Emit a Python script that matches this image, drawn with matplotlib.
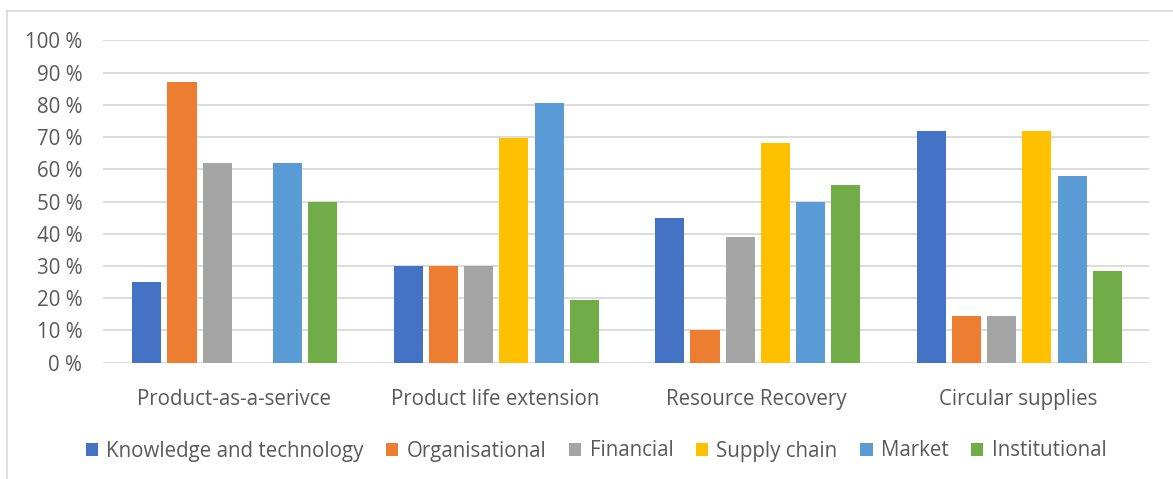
import matplotlib
matplotlib.use("Agg")
import matplotlib.pyplot as plt
from matplotlib.patches import Patch
from matplotlib.lines import Line2D
import numpy as np

categories = ["Product-as-a-serivce", "Product life extension", "Resource Recovery", "Circular supplies"]
series_names = ["Knowledge and technology", "Organisational", "Financial", "Supply chain", "Market", "Institutional"]
knowledge = [25, 30, 45, 72]
organisational = [87, 30, 10, 14.4]
financial = [62, 30, 39, 14.4]
supply_chain = [0, 69.6, 68, 72]
market = [62, 80.4, 50, 58]
institutional = [50, 19.4, 55, 28.4]
yticks = [0, 10, 20, 30, 40, 50, 60, 70, 80, 90, 100]
ytick_labels = ["0 %", "10 %", "20 %", "30 %", "40 %", "50 %", "60 %", "70 %", "80 %", "90 %", "100 %"]

colors = ["#4472C4", "#ED7D31", "#A5A5A5", "#FFC000", "#5B9BD5", "#70AD47"]
all_series = [knowledge, organisational, financial, supply_chain, market, institutional]

plt.rcParams['font.family'] = ['Open Sans', 'DejaVu Sans']
txt = "#595959"
fs = 14.8

fig = plt.figure(figsize=(11.73, 4.79), dpi=100)
ax = fig.add_axes([103/1173, 1-362.7/479, (1149-103)/1173, (362.7-40.3)/479])

x = np.arange(len(categories))
slot = 0.1346
width = 0.111
for i, (vals, c) in enumerate(zip(all_series, colors)):
    offs = (i - 2.5) * slot + 0.004
    ax.bar(x + offs, vals, width=width, color=c, zorder=3, label=series_names[i])

ax.set_xlim(-0.5, 3.5)
ax.set_ylim(0, 100)
ax.set_yticks(yticks)
ax.set_yticklabels(ytick_labels)
ax.set_xticks(x)
ax.set_xticklabels(categories)
ax.tick_params(axis='y', length=0, pad=15, labelsize=fs, labelcolor=txt)
ax.tick_params(axis='x', length=0, pad=19, labelsize=fs, labelcolor=txt)
ax.grid(axis='y', color="#D9D9D9", linewidth=1.3, zorder=0)
for s in ax.spines.values():
    s.set_visible(False)

handles = [Patch(facecolor=c, edgecolor='none') for c in colors]
fig.legend(handles, series_names, loc='center', bbox_to_anchor=(596/1173, 1-451/479),
           ncol=6, frameon=False, fontsize=fs, labelcolor=txt,
           handlelength=0.6, handleheight=0.6, handletextpad=0.4, columnspacing=1.1)

fig.add_artist(Line2D([7/1173, 7/1173], [0, 1-10.5/479], transform=fig.transFigure, color="#D9D9D9", linewidth=1.2))
fig.add_artist(Line2D([7/1173, 1], [1-10.5/479, 1-10.5/479], transform=fig.transFigure, color="#D9D9D9", linewidth=1.2))

fig.savefig("out.png", dpi=100)
